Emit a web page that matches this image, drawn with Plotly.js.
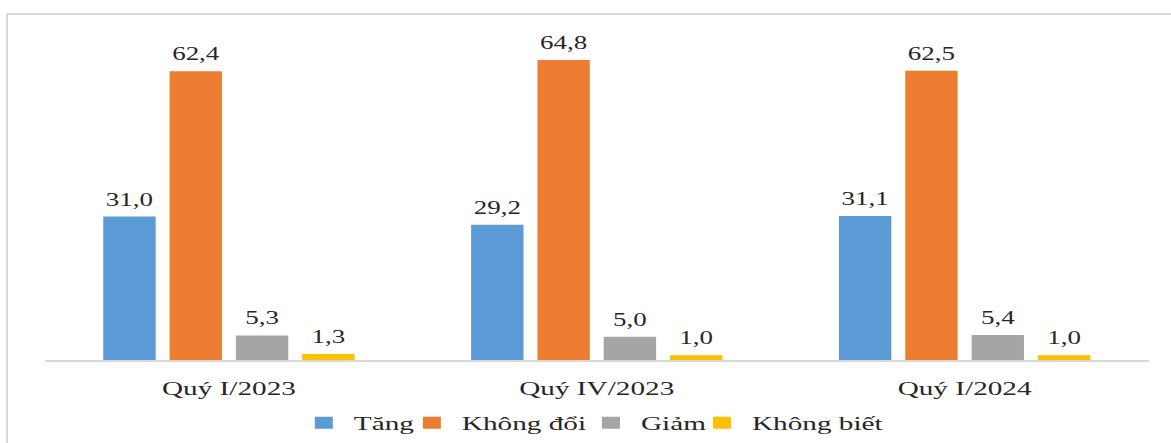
<!DOCTYPE html>
<html>
<head>
<meta charset="utf-8">
<script src="https://cdn.plot.ly/plotly-3.0.1.min.js"></script>
<style>
  html, body { margin: 0; padding: 0; background: #ffffff; overflow: hidden; }
  #frame { position: absolute; left: 6px; top: 13px; width: 1200px; height: 500px;
           border-top: 2px solid #d9d9d9; border-left: 2px solid #d9d9d9; }
  #chart { position: absolute; left: 0; top: 0; width: 781px; height: 443px;
           transform: scaleX(1.4994); transform-origin: 0 0; }
  #chart text.bartext { translate: 0px -4px; }
</style>
</head>
<body>
<div id="frame"></div>
<div id="chart"></div>
<script>
const categories = ["Quý I/2023", "Quý IV/2023", "Quý I/2024"];
const seriesNames = ["Tăng", "Không đổi", "Giảm", "Không biết"];
const tang = [31.0, 29.2, 31.1];
const khongDoi = [62.4, 64.8, 62.5];
const giam = [5.3, 5.0, 5.4];
const khongBiet = [1.3, 1.0, 1.0];
const colors = ["#5B9BD5", "#ED7D31", "#A5A5A5", "#FFC000"];

const values = [tang, khongDoi, giam, khongBiet];
const serif = "'Liberation Serif', 'Times New Roman', serif";
const legendIds = ["legend", "legend2", "legend3", "legend4"];
const legendX = [0.2255, 0.3234, 0.4857, 0.5863];

const traces = values.map((v, i) => ({
  type: "bar",
  name: seriesNames[i],
  legend: legendIds[i],
  x: categories,
  y: v,
  marker: { color: colors[i] },
  texttemplate: "%{y:.1f}",
  textposition: "outside",
  cliponaxis: false,
  textfont: { family: serif, size: 18, color: "#262626" },
  hoverinfo: "skip"
}));

const layout = {
  width: 781,
  height: 443,
  margin: { l: 30, r: 15, t: 36, b: 83, autoexpand: false },
  paper_bgcolor: "rgba(0,0,0,0)",
  plot_bgcolor: "rgba(0,0,0,0)",
  separators: ",.",
  barmode: "group",
  bargap: 0.279,
  bargroupgap: 0.21,
  showlegend: true,
  xaxis: {
    type: "category",
    showline: true,
    linecolor: "#d9d9d9",
    linewidth: 1.5,
    ticks: "",
    ticklabelstandoff: 10,
    tickfont: { family: serif, size: 19.5, color: "#262626" },
    fixedrange: true
  },
  yaxis: {
    visible: false,
    range: [0, 70],
    showgrid: false,
    zeroline: false,
    fixedrange: true
  }
};

legendIds.forEach((id, i) => {
  layout[id] = {
    orientation: "h",
    x: legendX[i], xanchor: "left",
    y: -0.195, yanchor: "middle",
    bgcolor: "rgba(0,0,0,0)",
    font: { family: serif, size: 19.5, color: "#262626" },
    itemclick: false, itemdoubleclick: false
  };
});

Plotly.newPlot("chart", traces, layout, { displayModeBar: false, staticPlot: true });
</script>
</body>
</html>
